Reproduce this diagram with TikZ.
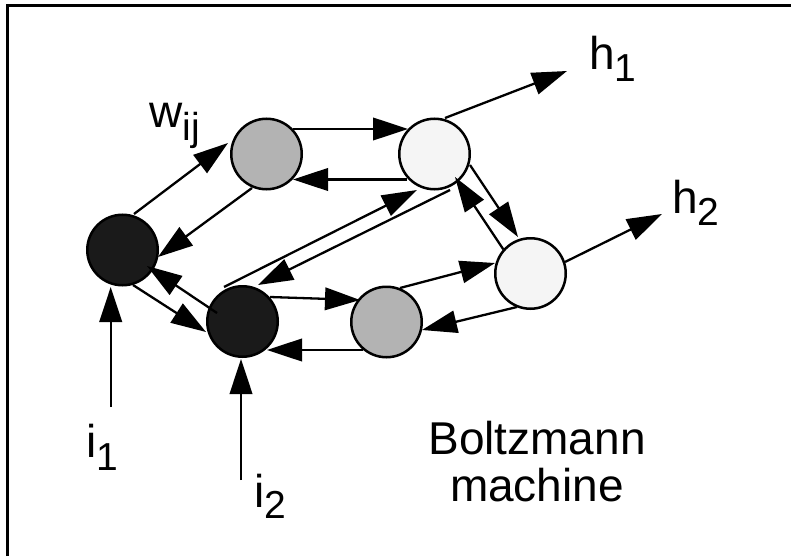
\documentclass[tikz,border=0pt]{standalone}
\usepackage{fontspec}
\setmainfont{Liberation Sans}
\usetikzlibrary{arrows.meta,calc}

\definecolor{unitdark}{HTML}{1A1A1A}
\definecolor{unitgray}{HTML}{B3B3B3}
\definecolor{unitlight}{HTML}{F5F5F5}

\newcommand{\mainsz}{\fontsize{46}{55}\selectfont}
\newcommand{\subsz}{\fontsize{39}{46}\selectfont}
\newcommand{\lowsub}[2]{\raisebox{-#1pt}{\subsz #2}}

\begin{document}
\begin{tikzpicture}[x=1pt,y=-1pt,
  neuron/.style={circle,draw=black,line width=2.5pt,minimum size=70.5pt,inner sep=0pt},
  link/.style={line width=2.3pt,-{Triangle[length=35pt,width=22.5pt]}},
  lbl/.style={inner sep=0pt,anchor=base west,font=\mainsz},
  caption/.style={inner sep=0pt,anchor=base,font=\mainsz}]

  \useasboundingbox (0,0) rectangle (791,556);

  % frame along the top and left edges
  \draw[line width=3pt] (7.7,556) -- (7.7,5.3) -- (791,5.3);

  % units
  \node[neuron,fill=unitdark]  (A) at (122.5,250)   {};
  \node[neuron,fill=unitgray]  (B) at (266.5,154)   {};
  \node[neuron,fill=unitdark]  (C) at (242.5,321.5) {};
  \node[neuron,fill=unitgray]  (D) at (386.5,322)   {};
  \node[neuron,fill=unitlight] (E) at (434.5,154)   {};
  \node[neuron,fill=unitlight] (F) at (530.5,273.5) {};

  % free ends of the input and output lines
  \coordinate (in1)  at (110.7,407);
  \coordinate (in2)  at (241,480);
  \coordinate (out1) at (567,71);
  \coordinate (out2) at (662,214);

  % symmetric connections
  \draw[link] ($(A)+(11.5,-36)$)   -- ($(B)+(-38.5,-11)$);
  \draw[link] ($(B)+(-14.5,34)$)   -- ($(A)+(35.5,7)$);
  \draw[link] ($(B)+(26.5,-25)$)   -- ($(E)+(-26.5,-25)$);
  \draw[link] ($(E)+(-27.5,25.5)$) -- ($(B)+(26.5,25.5)$);
  \draw[link] ($(C)+(-18.5,-34.5)$) -- ($(E)+(-17.5,36)$);
  \draw[link] ($(E)+(15.5,36)$)    -- ($(C)+(15.5,-36.5)$);
  \draw[link] ($(C)+(-25.5,-8.5)$) -- ($(A)+(24.5,16)$);
  \draw[link] ($(A)+(10.5,35)$)    -- ($(C)+(-36.5,10.5)$);
  \draw[link] ($(C)+(27.5,-24.5)$) -- ($(D)+(-26.5,-22)$);
  \draw[link] ($(D)+(-23.4,28)$)   -- ($(C)+(24.5,28.5)$);
  \draw[link] ($(D)+(13.5,-34)$)   -- ($(F)+(-35.5,-10.5)$);
  \draw[link] ($(F)+(-13.5,33.5)$) -- ($(D)+(35.5,8)$);
  \draw[link] ($(E)+(35.5,11)$)    -- ($(F)+(-12.5,-36.5)$);
  \draw[link] ($(F)+(-27.2,-24.2)$) -- ($(E)+(20.5,23)$);

  % outputs and inputs
  \draw[link] ($(E)+(10.5,-36)$)  -- (out1);
  \draw[link] ($(F)+(34.5,-11.5)$) -- (out2);
  \draw[link] (in1) -- ($(A)+(-11.8,37)$);
  \draw[link] (in2) -- ($(C)+(-1.5,37.5)$);

  % labels
  \node[lbl] (wlab)  at (149.5,128) {w\lowsub{13}{ij}};
  \node[lbl] (h1lab) at (589,70)    {h\lowsub{12}{1}};
  \node[lbl] (h2lab) at (672,213)   {h\lowsub{12}{2}};
  \node[lbl] (i1lab) at (86,457)    {i\lowsub{13}{1}};
  \node[lbl] (i2lab) at (254,507)   {i\lowsub{11}{2}};

  \node[caption] (bolt) at (537,454)   {Boltzmann};
  \node[caption] (mach) at (537,501.7) {machine};
\end{tikzpicture}
\end{document}
